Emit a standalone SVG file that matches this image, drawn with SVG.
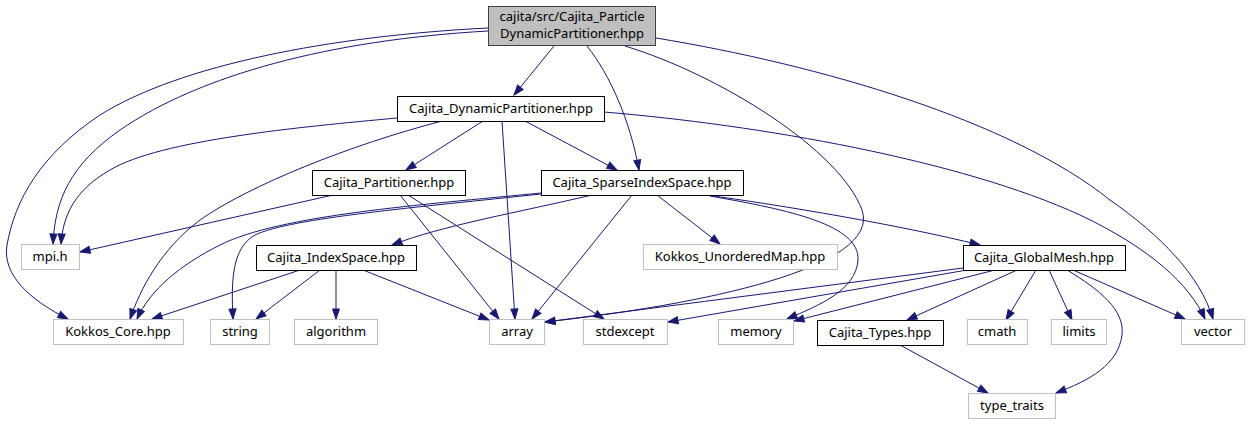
<svg xmlns="http://www.w3.org/2000/svg" width="1250" height="425" viewBox="0 0 1250 425">
<style>
  .n rect { fill: #ffffff; stroke: #000000; stroke-width: 1; }
  .x rect { fill: #ffffff; stroke: #bfbfbf; stroke-width: 1; }
  .r rect { fill: #bfbfbf; stroke: #404040; stroke-width: 1; }
  text { font-family: "Noto Sans", "DejaVu Sans", sans-serif; font-size: 13px; fill: #000000; text-anchor: middle; }
  #edges path { fill: none; stroke: #191970; stroke-width: 1; marker-end: url(#ah); }
</style>
<defs>
  <marker id="ah" markerWidth="11" markerHeight="9" refX="10" refY="4" orient="auto" markerUnits="userSpaceOnUse" overflow="visible">
    <path d="M0,0.5 L10,4 L0,7.5 z" fill="#191970" stroke="#191970" stroke-width="1"/>
  </marker>
</defs>
<rect width="1250" height="425" fill="#ffffff"/>
<g id="edges">
  <path d="M554,46 L514,95"/>
  <path d="M488,31 C330,40 200,75 120,130 C70,165 55,200 53,244"/>
  <path d="M488,28 C330,36 180,65 100,115 C40,155 15,200 7,245 C2,275 30,300 68,319"/>
  <path d="M587,46 C610,75 630,120 639,170"/>
  <path d="M625,46 C720,75 840,150 862,210 C882,268 700,305 545,322"/>
  <path d="M656,38 C820,65 1010,120 1110,200 C1160,235 1200,275 1213,319"/>
  <path d="M397,118 C300,127 160,140 110,170 C75,190 63,215 61,244"/>
  <path d="M442,121 C350,145 250,185 200,220 C160,250 140,290 130,319"/>
  <path d="M483,121 L406,170"/>
  <path d="M525,121 L617,170"/>
  <path d="M502,121 L515,319"/>
  <path d="M604,112 C760,125 960,160 1080,215 C1150,248 1190,285 1205,319"/>
  <path d="M333,195 L80,252"/>
  <path d="M400,195 L499,319"/>
  <path d="M408,195 L604,319"/>
  <path d="M541,193 C420,205 280,215 220,245 C180,265 150,290 137,319"/>
  <path d="M541,194 C420,207 290,218 255,235 C232,248 231,280 233,319"/>
  <path d="M592,195 C520,212 440,226 392,245"/>
  <path d="M632,195 L532,319"/>
  <path d="M657,195 L720,244"/>
  <path d="M706,195 C780,205 900,225 980,245"/>
  <path d="M710,196 C790,210 860,225 858,260 C856,290 820,305 787,319"/>
  <path d="M300,270 L152,319"/>
  <path d="M320,270 L256,319"/>
  <path d="M336,270 L336,319"/>
  <path d="M363,270 L489,320"/>
  <path d="M963,268 L545,322"/>
  <path d="M967,270 L668,322"/>
  <path d="M995,270 L794,321"/>
  <path d="M1017,270 L907,320"/>
  <path d="M1036,270 L1006,320"/>
  <path d="M1049,270 L1072,320"/>
  <path d="M1067,270 C1100,290 1125,310 1122,335 C1118,365 1090,380 1056,393"/>
  <path d="M1073,270 L1185,319"/>
  <path d="M900,345 L988,393"/>
</g>
<g id="node_root" class="r"><rect x="488.5" y="6.5" width="167" height="39"/><text x="572" y="21">cajita/src/Cajita_Particle</text><text x="572" y="37.5">DynamicPartitioner.hpp</text></g>
<g id="node_dynpart" class="n"><rect x="397.5" y="96.5" width="207" height="25"/><text x="501" y="113">Cajita_DynamicPartitioner.hpp</text></g>
<g id="node_partitioner" class="n"><rect x="312.5" y="170.5" width="153" height="25"/><text x="389" y="187">Cajita_Partitioner.hpp</text></g>
<g id="node_sparse" class="n"><rect x="541.5" y="170.5" width="202" height="25"/><text x="642" y="187">Cajita_SparseIndexSpace.hpp</text></g>
<g id="node_mpi" class="x"><rect x="21.5" y="244.5" width="58" height="25"/><text x="50" y="261">mpi.h</text></g>
<g id="node_indexspace" class="n"><rect x="256.5" y="245.5" width="160" height="25"/><text x="336" y="262">Cajita_IndexSpace.hpp</text></g>
<g id="node_unorderedmap" class="x"><rect x="643.5" y="244.5" width="194" height="25"/><text x="740" y="261">Kokkos_UnorderedMap.hpp</text></g>
<g id="node_globalmesh" class="n"><rect x="963.5" y="245.5" width="162" height="25"/><text x="1044" y="262">Cajita_GlobalMesh.hpp</text></g>
<g id="node_kokkoscore" class="x"><rect x="53.5" y="319.5" width="130" height="25"/><text x="118" y="336">Kokkos_Core.hpp</text></g>
<g id="node_string" class="x"><rect x="210.5" y="319.5" width="59" height="25"/><text x="240" y="336">string</text></g>
<g id="node_algorithm" class="x"><rect x="294.5" y="319.5" width="83" height="25"/><text x="336" y="336">algorithm</text></g>
<g id="node_array" class="x"><rect x="489.5" y="319.5" width="55" height="25"/><text x="517" y="336">array</text></g>
<g id="node_stdexcept" class="x"><rect x="583.5" y="319.5" width="84" height="25"/><text x="625" y="336">stdexcept</text></g>
<g id="node_memory" class="x"><rect x="718.5" y="319.5" width="75" height="25"/><text x="756" y="336">memory</text></g>
<g id="node_types" class="n"><rect x="817.5" y="320.5" width="126" height="25"/><text x="880" y="337">Cajita_Types.hpp</text></g>
<g id="node_cmath" class="x"><rect x="967.5" y="319.5" width="60" height="25"/><text x="997" y="336">cmath</text></g>
<g id="node_limits" class="x"><rect x="1051.5" y="319.5" width="55" height="25"/><text x="1079" y="336">limits</text></g>
<g id="node_vector" class="x"><rect x="1181.5" y="319.5" width="63" height="25"/><text x="1213" y="336">vector</text></g>
<g id="node_typetraits" class="x"><rect x="968.5" y="393.5" width="87" height="25"/><text x="1012" y="410">type_traits</text></g>
</svg>
